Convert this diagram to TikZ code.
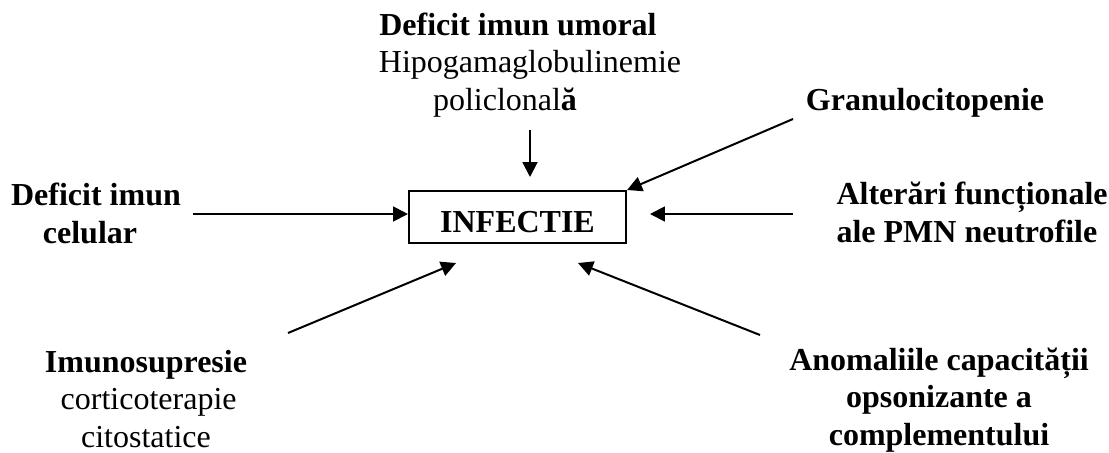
\documentclass[tikz,border=0pt]{standalone}
\usepackage{fontspec}
\setmainfont{Liberation Serif}
\usepackage{tikz}
\usetikzlibrary{arrows.meta,positioning}
\tikzset{
  cause/.style={align=center,inner sep=0pt,anchor=base,font=\fontsize{12}{13.9}\selectfont},
  causeb/.style={cause,font=\fontsize{12}{13.9}\selectfont\bfseries},
  centre/.style={draw,line width=0.75pt,inner sep=0pt,minimum width=81.4pt,minimum height=19.5pt,text height=11.3pt,text depth=0pt,font=\fontsize{12}{13.9}\selectfont\bfseries},
  ar/.style={-{Triangle[length=5.6pt,width=5.6pt]},line width=0.75pt},
}
\begin{document}
\begin{tikzpicture}[x=0.375pt,y=-0.375pt]
  \useasboundingbox (0,0) rectangle (1109,452);
  % central box
  \node[centre] (infectie) at (517.5,217) {INFECTIE};
  % causes (anchored at the baseline of their last line)
  \node[cause] (umoral) at (518,110) {\textbf{Deficit imun umoral}\\\hspace*{9pt}Hipogamaglobulinemie\\policlonal\textbf{ă}\hspace*{9.75pt}};
  \node[causeb] (granulo) at (925,110) {Granulocitopenie};
  \node[causeb,align=left,anchor=base west] (pmn) at (836,242) {Alterări funcționale\\ale PMN neutrofile};
  \node[causeb] (celular) at (96,243) {Deficit imun\\celular\hspace*{4.5pt}};
  \node[cause] (imuno) at (146,447) {\textbf{Imunosupresie}\\\hspace*{2pt}corticoterapie\\citostatice};
  \node[causeb] (anomalii) at (939,445) {Anomaliile capacității\\opsonizante a\\complementului};
  % arrow ends
  \coordinate (umoral-a) at (530,130);
  \coordinate (umoral-b) at (530,177);
  \coordinate (granulo-a) at (793,119);
  \coordinate (pmn-a) at (793,214);
  \coordinate (pmn-b) at (650,214);
  \coordinate (celular-a) at (193,214);
  \coordinate (imuno-a) at (288,333);
  \coordinate (imuno-b) at (456,263);
  \coordinate (anomalii-a) at (760,335);
  \coordinate (anomalii-b) at (578,263);
  % arrows
  \draw[ar] (umoral-a) -- (umoral-b);
  \draw[ar] (granulo-a) -- (infectie.north east);
  \draw[ar] (pmn-a) -- (pmn-b);
  \draw[ar] (celular-a) -- (infectie.west |- celular-a);
  \draw[ar] (imuno-a) -- (imuno-b);
  \draw[ar] (anomalii-a) -- (anomalii-b);
\end{tikzpicture}
\end{document}
